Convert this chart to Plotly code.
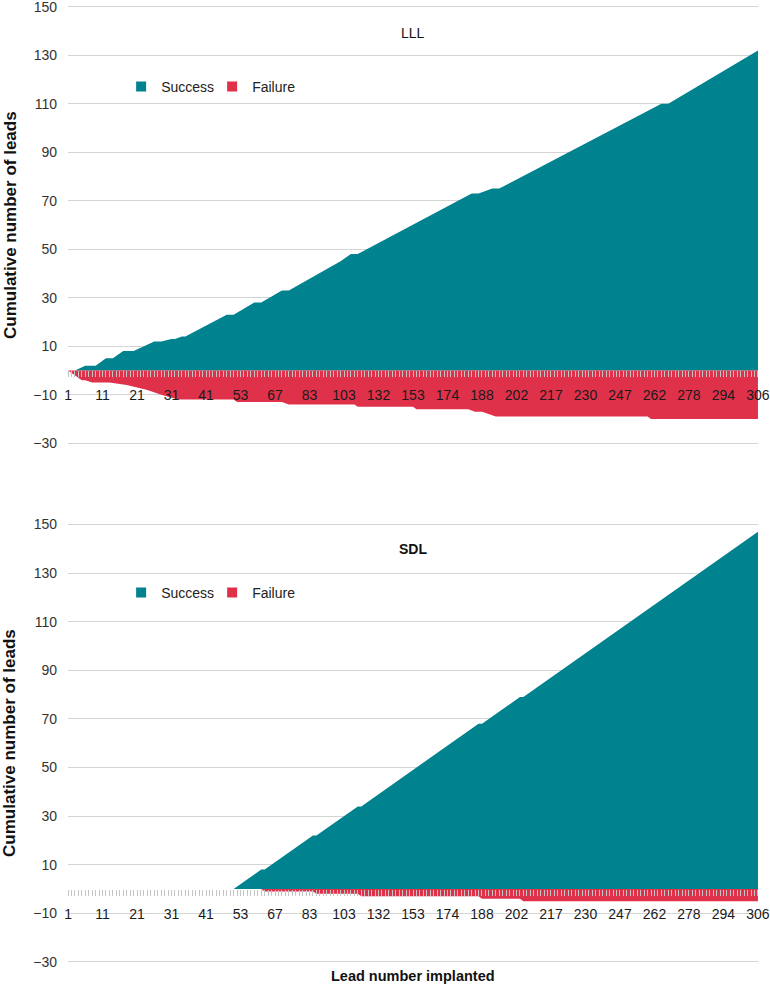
import plotly.graph_objects as go

# ------------------------------------------------------------------ data
# x axis: category index of each implanted lead (every 10th lead labelled)
TICK_POS = [0, 10, 20, 30, 40, 50, 60, 70, 80, 90, 100,
            110, 120, 130, 140, 150, 160, 170, 180, 190, 200]
TICK_LABELS = ["1", "11", "21", "31", "41", "53", "67", "83", "103", "132", "153",
               "174", "188", "202", "217", "230", "247", "262", "278", "294", "306"]
Y_TICKS = [-30, -10, 10, 30, 50, 70, 90, 110, 130, 150]

# LLL: cumulative success / failure (vertices)
LLL_SUCCESS_IDX = [0, 2, 5, 8, 11, 13, 16, 19, 25, 27, 30, 31, 33, 34, 46, 48,
                   54, 56, 62, 64, 79, 82, 84, 116, 117, 119, 123, 125,
                   172, 174, 200]
LLL_SUCCESS = [0, 0, 2, 2, 5, 5, 8, 8, 12, 12, 13, 13, 14, 14, 23, 23,
               28, 28, 33, 33, 45, 48, 48, 72, 73, 73, 75, 75,
               110, 110, 132]
LLL_FAILURE_IDX = [0, 2, 4, 5, 7, 12, 17, 20, 23, 27, 32, 48, 49, 62, 64,
                   83, 84, 100, 101, 116, 118, 120, 122, 124, 168, 169, 200]
LLL_FAILURE = [0, -2, -4, -4, -5, -5, -6, -7, -8, -10, -12, -12, -13, -13, -14,
               -14, -15, -15, -16, -16, -17, -17, -18, -19, -19, -20, -20]

# SDL: cumulative success / failure
SDL_SUCCESS_IDX = [0, 48, 56, 57, 71, 72, 84, 85, 119, 120, 131, 132, 200]
SDL_SUCCESS = [0, 0, 8, 8, 22, 22, 34, 34, 68, 68, 79, 79, 147]
SDL_FAILURE_IDX = [0, 56, 57, 71, 72, 84, 85, 119, 120, 131, 132, 200]
SDL_FAILURE = [0, 0, -1, -1, -2, -2, -3, -3, -4, -4, -5, -5]

TEAL = "#00828F"
RED = "#E0314B"
GRID = "#d4d4d4"
TICK = "#c4c4c4"

# ------------------------------------------------------------------ layout helpers
# y range padded a little so the -30 and 150 gridlines are still drawn
Y_RANGE = [-30.6, 150.6]
TOP_DOM = [0.5420, 0.9997]
BOT_DOM = [0.0017, 0.4604]


def zero_pos(dom):
    """Paper position of y = 0 inside a y domain."""
    frac = (0 - Y_RANGE[0]) / (Y_RANGE[1] - Y_RANGE[0])
    return dom[0] + (dom[1] - dom[0]) * frac


def x_axis(dom):
    return dict(
        domain=[0, 1], range=[-0.01, 200.01],
        anchor="free", position=zero_pos(dom), automargin=False,
        tickmode="array", tickvals=TICK_POS, ticktext=TICK_LABELS,
        ticks="outside", ticklen=6, tickwidth=1, tickcolor=TICK,
        minor=dict(tickmode="linear", tick0=0, dtick=1, ticks="outside",
                   ticklen=6, tickwidth=1, tickcolor=TICK, showgrid=False),
        showgrid=False, zeroline=False, showline=False,
        ticklabelstandoff=6, ticklabeloverflow="allow",
        tickfont=dict(size=14, color="#1a1a1a"),
        layer="above traces",
    )


def y_axis(dom, anchor):
    return dict(
        domain=dom, range=Y_RANGE, anchor=anchor, automargin=False,
        tickmode="array", tickvals=Y_TICKS,
        showgrid=True, gridcolor=GRID, gridwidth=1.3,
        zeroline=False, showline=False, ticks="",
        ticklabelstandoff=10, ticklabeloverflow="allow",
        tickfont=dict(size=14, color="#333333"),
    )


def area(x, y, color, xa, ya):
    return go.Scatter(x=x, y=y, mode="lines", fill="tozeroy", fillcolor=color,
                      line=dict(width=0, color=color), xaxis=xa, yaxis=ya,
                      showlegend=False, hoverinfo="x+y")


def legend_key(name, color, legend):
    return go.Scatter(x=[None], y=[None], mode="markers", name=name,
                      marker=dict(symbol="square", size=10, color=color),
                      legend=legend, showlegend=True)


def note(text, x, y, size, **kw):
    return dict(text=text, x=x, y=y, xref="paper", yref="paper",
                xanchor="center", yanchor="middle", showarrow=False,
                font=dict(size=size, color="#111111"), **kw)


# ------------------------------------------------------------------ figure
fig = go.Figure([
    area(LLL_SUCCESS_IDX, LLL_SUCCESS, TEAL, "x", "y"),
    area(LLL_FAILURE_IDX, LLL_FAILURE, RED, "x", "y"),
    area(SDL_SUCCESS_IDX, SDL_SUCCESS, TEAL, "x2", "y2"),
    area(SDL_FAILURE_IDX, SDL_FAILURE, RED, "x2", "y2"),
    legend_key("Success", TEAL, "legend"),
    legend_key("Failure", RED, "legend"),
    legend_key("Success", TEAL, "legend2"),
    legend_key("Failure", RED, "legend2"),
])

legend_style = dict(orientation="h", x=0.077, xanchor="left", yanchor="middle",
                    entrywidth=46, entrywidthmode="pixels",
                    bgcolor="rgba(0,0,0,0)", font=dict(size=14, color="#222222"))

fig.update_layout(
    width=770, height=985,
    margin=dict(l=68, r=12, t=5, b=20, autoexpand=False),
    plot_bgcolor="white", paper_bgcolor="white",
    font=dict(family="Liberation Sans, Arial, sans-serif", size=14, color="#222222"),
    xaxis=x_axis(TOP_DOM), yaxis=y_axis(TOP_DOM, "x"),
    xaxis2=x_axis(BOT_DOM), yaxis2=y_axis(BOT_DOM, "x2"),
    legend=dict(legend_style, y=0.9146),
    legend2=dict(legend_style, y=0.3875),
    annotations=[
        note("LLL", 0.5, 0.9708, 14),
        note("<b>SDL</b>", 0.5, 0.4333, 14),
        note("<b>Cumulative number of leads</b>", -0.0841, 0.7708, 17,
             textangle=-90),
        note("<b>Cumulative number of leads</b>", -0.0841, 0.2313, 17,
             textangle=-90),
        note("<b>Lead number implanted</b>", 0.5, -0.0115, 14.5),
    ],
)

# the page's default body margin would shift the 770x985 figure by 8px
fig.write_html("out.html", config={"displayModeBar": False},
               post_script="document.body.style.margin = '0px';")
